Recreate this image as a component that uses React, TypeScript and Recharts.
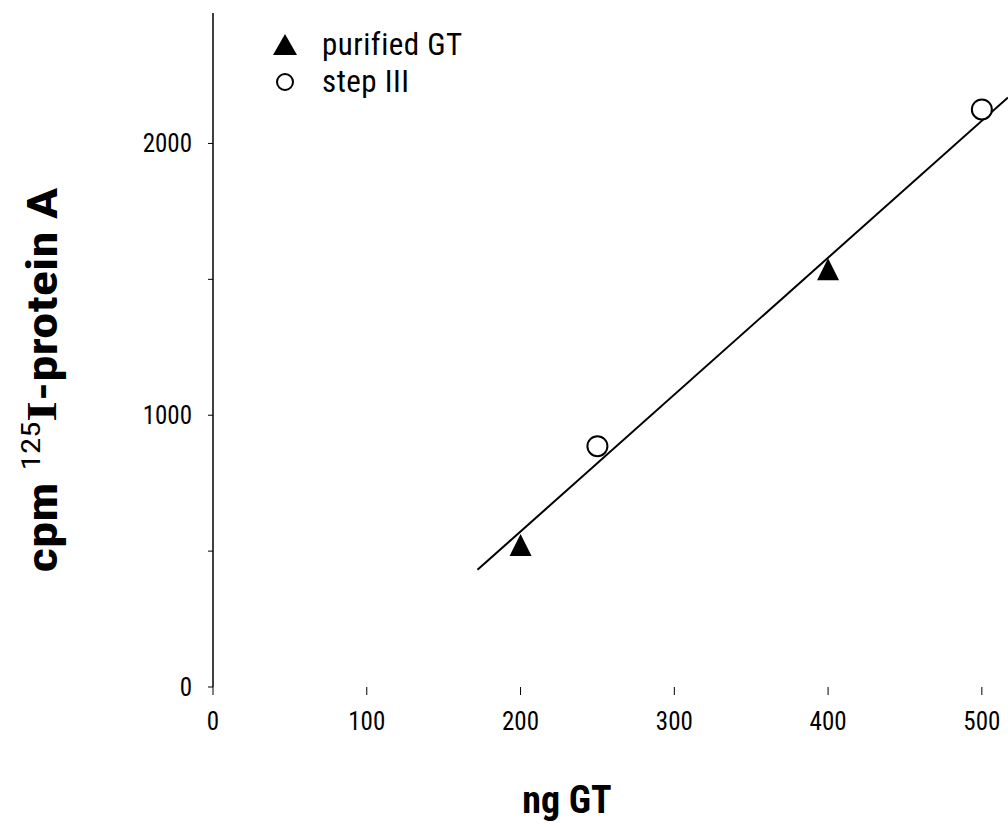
import React from 'react';
import {
    ComposedChart,
    Line,
    Scatter,
    XAxis,
    YAxis,
    Label
} from 'recharts';

// valores
const purifiedX = [200, 400];
const purifiedY = [515, 1530];
const stepX = [250, 500];
const stepY = [886, 2125];
const fitX = [172, 517];
const fitY = [431, 2169];
const xTicks = [0, 100, 200, 300, 400, 500];
const yTicks = [0, 500, 1000, 1500, 2000];

const purified = purifiedX.map((x, i) => ({ x, y: purifiedY[i] }));
const step = stepX.map((x, i) => ({ x, y: stepY[i] }));
const fit = fitX.map((x, i) => ({ x, y: fitY[i] }));

const FONT = '"Liberation Sans Narrow", "Roboto Condensed", "Liberation Sans", sans-serif';

const Triangle = (props: any) => {
    const { cx, cy } = props;
    return <path d={`M${cx},${cy - 13} L${cx + 11},${cy + 9} L${cx - 11},${cy + 9} Z`} fill="#000" />;
};

const Circle = (props: any) => {
    const { cx, cy } = props;
    return <circle cx={cx} cy={cy} r={10} fill="#fff" stroke="#000" strokeWidth={2} />;
};

const LegendBox = () => (
    <div style={{ position: 'absolute', left: 270, top: 26, fontFamily: FONT, fontSize: 31, color: '#000', lineHeight: '37px' }}>
        <div style={{ display: 'flex', alignItems: 'center', height: 37 }}>
            <svg width={30} height={30}><path d="M15,4 L27,25 L3,25 Z" fill="#000" /></svg>
            <span style={{ marginLeft: 22, letterSpacing: 0.5 }}>purified GT</span>
        </div>
        <div style={{ display: 'flex', alignItems: 'center', height: 37 }}>
            <svg width={30} height={30}><circle cx={15} cy={15} r={8} fill="none" stroke="#000" strokeWidth={2} /></svg>
            <span style={{ marginLeft: 22, letterSpacing: 0.5 }}>step III</span>
        </div>
    </div>
);

const YTitle = () => {
    const cx = 42;
    const cy = 380;
    return (
        <text
            x={cx}
            y={cy}
            transform={`rotate(-90, ${cx}, ${cy})`}
            textAnchor="middle"
            dominantBaseline="central"
            fontFamily={FONT}
            fontWeight="bold"
            fontSize={42}
            fill="#000"
            textLength={385}
            lengthAdjust="spacingAndGlyphs"
        >
            cpm <tspan fontSize={26} fontWeight="normal" dy={-11}>125</tspan>
            <tspan fontFamily="Liberation Serif, serif" dy={11}>I</tspan>-protein A
        </text>
    );
};

const XTitle = () => (
    <text x={567} y={800} textAnchor="middle" dominantBaseline="central"
        fontFamily={FONT} fontWeight="bold" fontSize={38} fill="#000">
        ng GT
    </text>
);

const App: React.FC = () => {
    return (
        <div style={{ position: 'absolute', left: 0, top: 0, width: 1008, height: 827, background: '#fff' }}>
            <ComposedChart
                width={1008}
                height={827}
                margin={{ top: 13, right: 0, bottom: 0, left: 0 }}
            >
                <XAxis
                    type="number"
                    dataKey="x"
                    domain={[0, 517]}
                    ticks={xTicks}
                    axisLine={false}
                    tickLine={{ stroke: '#000', strokeWidth: 1 }}
                    tickSize={8}
                    tickMargin={17}
                    tick={{ fill: '#000', fontSize: 25, fontFamily: FONT }}
                    height={140}
                    allowDataOverflow
                >
                    <Label content={<XTitle />} />
                </XAxis>
                <YAxis
                    type="number"
                    dataKey="y"
                    domain={[0, 2480]}
                    ticks={yTicks}
                    width={213}
                    axisLine={{ stroke: '#000', strokeWidth: 1.5 }}
                    tickLine={{ stroke: '#000', strokeWidth: 1 }}
                    tickSize={5}
                    tickMargin={16}
                    tickFormatter={(v: number) => (v % 1000 === 0 ? String(v) : '')}
                    tick={{ fill: '#000', fontSize: 25, fontFamily: FONT }}
                    allowDataOverflow
                >
                    <Label content={<YTitle />} />
                </YAxis>
                <Line
                    data={fit}
                    dataKey="y"
                    type="linear"
                    stroke="#000"
                    strokeWidth={2}
                    dot={false}
                    activeDot={false}
                    legendType="none"
                    isAnimationActive={false}
                />
                <Scatter data={purified} dataKey="y" shape={<Triangle />} isAnimationActive={false} />
                <Scatter data={step} dataKey="y" shape={<Circle />} isAnimationActive={false} />
            </ComposedChart>
            <LegendBox />
        </div>
    );
};

export default App;
